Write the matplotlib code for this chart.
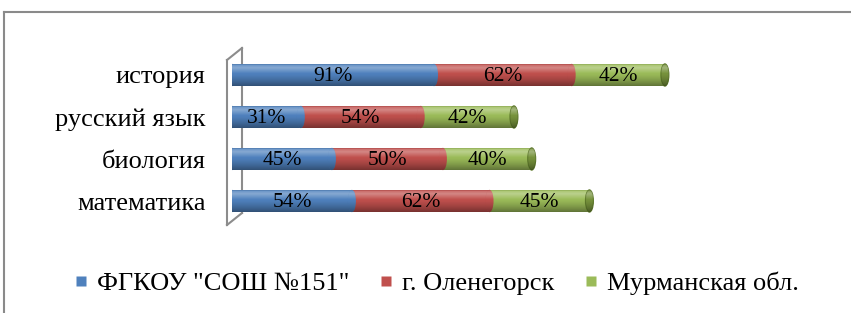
import numpy as np
import matplotlib
matplotlib.use("Agg")
import matplotlib.pyplot as plt
from matplotlib.patches import Ellipse
from matplotlib.lines import Line2D

plt.rcParams['font.family'] = ['Liberation Serif', 'DejaVu Serif']

subjects = ["история", "русский язык", "биология", "математика"]
series = ['ФГКОУ "СОШ №151"', "г. Оленегорск", "Мурманская обл."]
school = [91, 31, 45, 54]
town = [62, 54, 50, 62]
region = [42, 42, 40, 45]
colors = ["#4F81BD", "#C0504D", "#9BBB59"]
cap_color = "#77933C"

W, H = 851, 313
fig = plt.figure(figsize=(W / 100, H / 100), dpi=100)
ax = fig.add_axes([232 / W, (H - 222) / H, 555 / W, 168 / H])

bar_h = 0.53
cap_w = 3.6

# cylinder shading overlay
t = np.linspace(0, 1, 64)
shade = np.zeros((64, 1, 4))
top = t < 0.45
shade[top, 0, :3] = 1.0
shade[top, 0, 3] = 0.32 * np.clip(1 - np.abs(t[top] - 0.2) / 0.25, 0, 1)
bot = ~top
shade[bot, 0, :3] = 0.0
shade[bot, 0, 3] = 0.38 * ((t[bot] - 0.45) / 0.55) ** 1.3
shade[t < 0.05, 0, :3] = 0.0
shade[t < 0.05, 0, 3] = 0.12


def add_shade(patch, x0, x1, y):
    im = ax.imshow(shade, extent=(x0, x1, y + bar_h / 2, y - bar_h / 2),
                   aspect='auto', zorder=patch.get_zorder() + 0.01,
                   interpolation='bilinear')
    im.set_clip_path(patch)


data = [school, town, region]
for i, subj in enumerate(subjects):
    left = 0
    # rounded left end
    e = Ellipse((0, i), cap_w, bar_h, facecolor=colors[0], edgecolor='none', zorder=2)
    ax.add_patch(e)
    add_shade(e, -cap_w, cap_w, i)
    for k in range(3):
        v = data[k][i]
        z = 3 + (2 - k) * 0.1
        bars = ax.barh(i, v, left=left, height=bar_h, color=colors[k],
                       edgecolor='none', zorder=z)
        add_shade(bars[0], left, left + v, i)
        end = Ellipse((left + v, i), cap_w, bar_h,
                      facecolor=cap_color if k == 2 else colors[k],
                      edgecolor="#5f7a2c" if k == 2 else 'none',
                      lw=0.8, zorder=z + 0.05)
        ax.add_patch(end)
        add_shade(end, left + v - cap_w, left + v + cap_w, i)
        ax.text(left + v / 2, i + 0.04, f"{v}%", ha='center', va='center',
                fontsize=15.5, color='black', zorder=10)
        left += v

ax.set_xlim(0, 250)
ax.set_ylim(3.5, -0.5)
ax.set_yticks(range(len(subjects)))
ax.set_yticklabels(subjects, fontsize=19)
ax.tick_params(axis='y', length=0, pad=19)
ax.set_xticks([])
for s in ax.spines.values():
    s.set_visible(False)
ax.patch.set_alpha(0)


def px(x, y):
    return x / W, (H - y) / H


# 3D wall outline
wall_col = "#8c8c8c"
wall = [((227, 60), (227, 225)), ((242, 48), (242, 213)),
        ((227, 60), (242, 48)), ((227, 225), (242, 213))]
for a, b in wall:
    (x0, y0), (x1, y1) = px(*a), px(*b)
    fig.add_artist(Line2D([x0, x1], [y0, y1], transform=fig.transFigure,
                          color=wall_col, lw=1.5, zorder=-1))

# outer frame
for a, b in [((4, 12), (W + 5, 12)), ((4, 12), (4, H + 5))]:
    (x0, y0), (x1, y1) = px(*a), px(*b)
    fig.add_artist(Line2D([x0, x1], [y0, y1], transform=fig.transFigure,
                          color="#8a8a8a", lw=1.5))

handles = [Line2D([], [], marker='s', linestyle='none', markersize=7.5,
                  markerfacecolor=c, markeredgecolor='none') for c in colors]
fig.legend(handles, series, loc='center', bbox_to_anchor=(0.514, (H - 283) / H),
           ncol=3, frameon=False, fontsize=19, handlelength=0.4,
           handletextpad=0.4, columnspacing=1.2)

fig.savefig("out.png", dpi=100)
